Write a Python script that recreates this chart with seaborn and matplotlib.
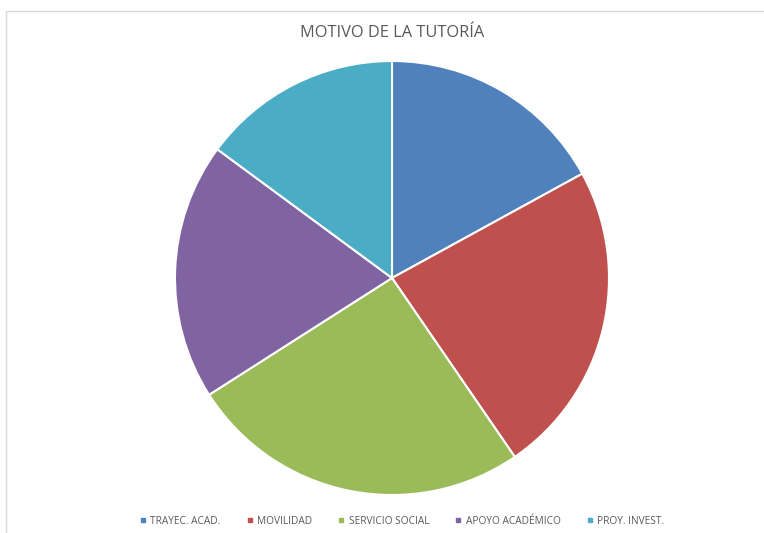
import matplotlib
matplotlib.use("Agg")
import matplotlib.pyplot as plt
import seaborn as sns
from matplotlib.lines import Line2D
from matplotlib.patches import Rectangle

categories = ["TRAYEC. ACAD.", "MOVILIDAD", "SERVICIO SOCIAL", "APOYO ACADÉMICO", "PROY. INVEST."]
values = [8, 11, 12, 9, 7]
colors = ["#4F81BD", "#C0504D", "#9BBB59", "#8064A2", "#4BACC6"]

sns.set_theme(style="white")
plt.rcParams['font.family'] = ['Open Sans', 'DejaVu Sans']

fig = plt.figure(figsize=(7.64, 5.33), dpi=100)
ax = fig.add_axes([(392 - 217) / 764, (533 - 495) / 533, 434 / 764, 434 / 533])
wedges, _ = ax.pie(values, colors=colors, startangle=90, counterclock=False,
                   wedgeprops=dict(edgecolor="white", linewidth=1.5))
ax.set_aspect("equal")
ax.set_xlim(-1.0, 1.0)
ax.set_ylim(-1.0, 1.0)
ax.axis("off")

fig.text(392 / 764, 1 - 33 / 533, "MOTIVO DE LA TUTORÍA", ha="center", va="center",
         fontsize=11.8, color="#595959")

handles = [Line2D([], [], marker="s", linestyle="none", markersize=3.5,
                  markerfacecolor=c, markeredgecolor=c) for c in colors]
fig.legend(handles, categories, loc="center", bbox_to_anchor=(402 / 764, 1 - 521 / 533),
           ncol=5, frameon=False, fontsize=7.3, handlelength=0.6, handletextpad=0.4,
           columnspacing=2.6, labelcolor="#595959")

fig.patches.append(Rectangle((6 / 764, -0.01), 1.0, 1 - 11 / 533 + 0.01, transform=fig.transFigure,
                             fill=False, edgecolor="#D9D9D9", linewidth=1))

fig.savefig("out.png", dpi=100)
